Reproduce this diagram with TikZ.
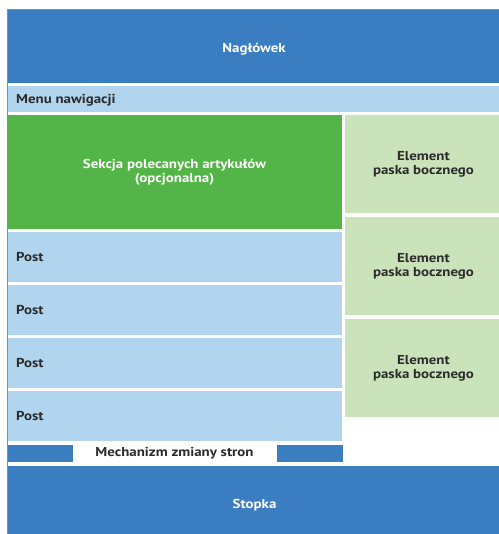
\documentclass[tikz,border=0pt]{standalone}
\usepackage{fontspec}
\setmainfont{PT Sans}[FakeStretch=1.15]
\usetikzlibrary{calc}
\definecolor{dblue}{HTML}{3A7EC1}
\definecolor{lblue}{HTML}{B1D5EF}
\definecolor{dgreen}{HTML}{53B447}
\definecolor{lgreen}{HTML}{CBE3BB}
\definecolor{txt}{HTML}{2B2B2B}
\newcommand{\lnstrut}{\rule[-4bp]{0pt}{14bp}}
\tikzset{
  blk/.style={draw=none, anchor=south west, inner sep=0pt, outer sep=0pt},
  lbl/.style={font=\bfseries\fontsize{13}{14.5}\selectfont, text=txt, align=center, inner sep=0pt},
  wlbl/.style={lbl, text=white},
}
\newcommand{\blkat}[6]{% name, color, x1, y1, x2, y2 (bp)
  \node[blk, fill=#2, minimum width=#5bp-#3bp, minimum height=#6bp-#4bp] (#1) at (#3bp,#4bp) {};}
\begin{document}
\begin{tikzpicture}[x=1bp,y=1bp]
\useasboundingbox (0,0) rectangle (499,534);
\fill[white] (0,0) rectangle (499,534);
\draw[gray!90, line width=1bp] (7.5,0) -- (7.5,524.5) -- (499,524.5);
\blkat{header}{dblue}{8}{451}{499}{524}
\blkat{menu}{lblue}{8}{422}{499}{448}
\blkat{featured}{dgreen}{8}{305}{342}{419}
\blkat{side1}{lgreen}{345}{321}{499}{419}
\blkat{side2}{lgreen}{345}{219}{499}{317}
\blkat{side3}{lgreen}{345}{117}{499}{215}
\blkat{post1}{lblue}{8}{252}{342}{302}
\blkat{post2}{lblue}{8}{199}{342}{249}
\blkat{post3}{lblue}{8}{146}{342}{196}
\blkat{post4}{lblue}{8}{93}{342}{143}
\blkat{pagl}{dblue}{8}{72}{73}{89}
\blkat{pagr}{dblue}{277}{72}{343}{89}
\blkat{footer}{dblue}{8}{0}{499}{68}
\node[wlbl, anchor=base] (tHeader) at (254,481.7) {Nagłówek};
\node[lbl, anchor=base west] (tMenu) at (16,430) {Menu nawigacji};
\node[wlbl, anchor=north] (tFeat) at (174.5,375.7) {\lnstrut Sekcja polecanych artykułów\\\lnstrut(opcjonalna)};
\node[lbl, anchor=north] (tS1) at (423.5,384) {\lnstrut Element\\\lnstrut paska bocznego};
\node[lbl, anchor=north] (tS2) at (423.5,282) {\lnstrut Element\\\lnstrut paska bocznego};
\node[lbl, anchor=north] (tS3) at (423.5,180) {\lnstrut Element\\\lnstrut paska bocznego};
\node[lbl, anchor=base west] (tP1) at (16,272) {Post};
\node[lbl, anchor=base west] (tP2) at (16,219) {Post};
\node[lbl, anchor=base west] (tP3) at (16,166) {Post};
\node[lbl, anchor=base west] (tP4) at (16,113) {Post};
\node[lbl, anchor=base] (tPag) at (174.5,77) {Mechanizm zmiany stron};
\node[wlbl, anchor=base] (tFooter) at (254.5,25.7) {Stopka};
\end{tikzpicture}
\end{document}
